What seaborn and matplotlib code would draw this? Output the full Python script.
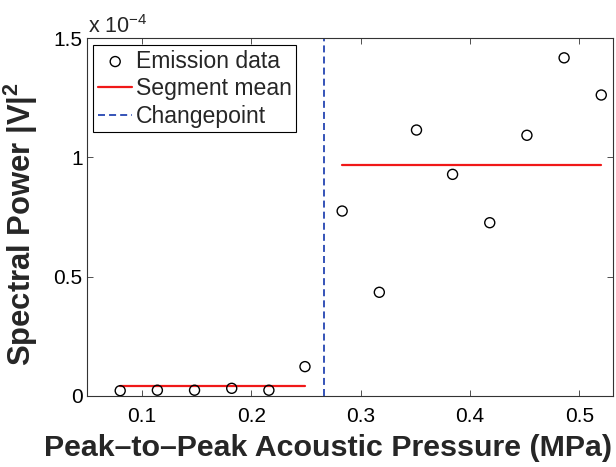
"""
Spectral power vs peak-to-peak acoustic pressure, with changepoint split
"""

import matplotlib
matplotlib.use("Agg")
import matplotlib.pyplot as plt
import numpy as np
import pandas as pd
import seaborn as sns

# ── data ─────────────────────────────────────────────────────────────────────
pressure = [0.080, 0.114, 0.148, 0.182, 0.216, 0.249, 0.283,
            0.317, 0.351, 0.384, 0.418, 0.452, 0.486, 0.520]          # MPa
power_e4 = [0.021, 0.023, 0.023, 0.031, 0.023, 0.122, 0.775,
            0.434, 1.115, 0.929, 0.726, 1.093, 1.418, 1.262]          # x 1e-4 V^2

seg_start = [0.080, 0.283]
seg_end = [0.249, 0.520]
seg_mean_e4 = [0.042, 0.968]
changepoint = 0.266

y_ticks_e4 = [0, 0.5, 1, 1.5]
y_ticklabels = ["0", "0.5", "1", "1.5"]
x_ticks = [0.1, 0.2, 0.3, 0.4, 0.5]
x_ticklabels = ["0.1", "0.2", "0.3", "0.4", "0.5"]

df = pd.DataFrame({"pressure": pressure,
                   "power": np.array(power_e4) * 1e-4})

# ── style ────────────────────────────────────────────────────────────────────
sns.set_theme(style="ticks")
plt.rcParams["font.family"] = ["Liberation Sans", "DejaVu Sans"]
plt.rcParams["mathtext.fontset"] = "custom"
plt.rcParams["mathtext.rm"] = "Liberation Sans"
plt.rcParams["mathtext.bf"] = "Liberation Sans:bold"
plt.rcParams["mathtext.default"] = "regular"

W, H = 616, 467
AX_L, AX_R, AX_T, AX_B = 87.4, 613.3, 38.3, 395.7   # axes box in pixels

fig = plt.figure(figsize=(W / 100, H / 100), dpi=100)
ax = fig.add_axes([AX_L / W, 1 - AX_B / H, (AX_R - AX_L) / W, (AX_B - AX_T) / H])

# ── marks ────────────────────────────────────────────────────────────────────
sns.scatterplot(data=df, x="pressure", y="power", ax=ax, marker="o",
                s=52, facecolor="none", edgecolor="black", linewidth=1.0,
                label="Emission data", zorder=3)

for i, (x0, x1, m) in enumerate(zip(seg_start, seg_end, seg_mean_e4)):
    ax.plot([x0, x1], [m * 1e-4, m * 1e-4], color="#f01818", lw=1.6,
            label="Segment mean" if i == 0 else None, zorder=2)

ax.axvline(changepoint, color="#3553b8", lw=1.4, ls=(0, (3.6, 2.1)),
           label="Changepoint", zorder=2)

# ── axes ─────────────────────────────────────────────────────────────────────
ax.set_xlim(0.05, 0.531)
ax.set_ylim(0, 1.5e-4)
ax.set_xticks(x_ticks)
ax.set_xticklabels(x_ticklabels)
ax.set_yticks(np.array(y_ticks_e4) * 1e-4)
ax.set_yticklabels(y_ticklabels)
ax.tick_params(direction="in", length=4.5, width=0.6, colors="#333333",
               labelcolor="black", labelsize=15, top=True, right=True)
ax.tick_params(axis="x", pad=8)
ax.tick_params(axis="y", pad=3.5)
for sp in ax.spines.values():
    sp.set_linewidth(0.8)
    sp.set_color("#333333")

ax.set_xlabel("Peak\u2013to\u2013Peak Acoustic Pressure (MPa)",
              fontsize=21.9, fontweight="bold")
ax.xaxis.set_label_coords((328 - AX_L) / (AX_R - AX_L),
                          (AX_B - 434) / (AX_B - AX_T))
ax.set_ylabel(r"Spectral Power |V|$^{\mathbf{2}}$",
              fontsize=22.3, fontweight="bold")
ax.yaxis.set_label_coords((40 - AX_L) / (AX_R - AX_L),
                          (AX_B - 224) / (AX_B - AX_T))

fig.text(88 / W, 1 - 33 / H, r"x 10$^{-4}$", fontsize=15.5,
         ha="left", va="baseline")

leg = ax.legend(loc="upper left", fontsize=16.6, frameon=True, fancybox=False,
                edgecolor="black", framealpha=1, borderpad=0.2,
                handlelength=1.5, handletextpad=0.15, labelspacing=0.2,
                borderaxespad=0,
                bbox_to_anchor=((93.3 - AX_L) / (AX_R - AX_L),
                                (AX_B - 45) / (AX_B - AX_T)))
leg.get_frame().set_linewidth(0.8)

fig.savefig("out.png", dpi=100)
